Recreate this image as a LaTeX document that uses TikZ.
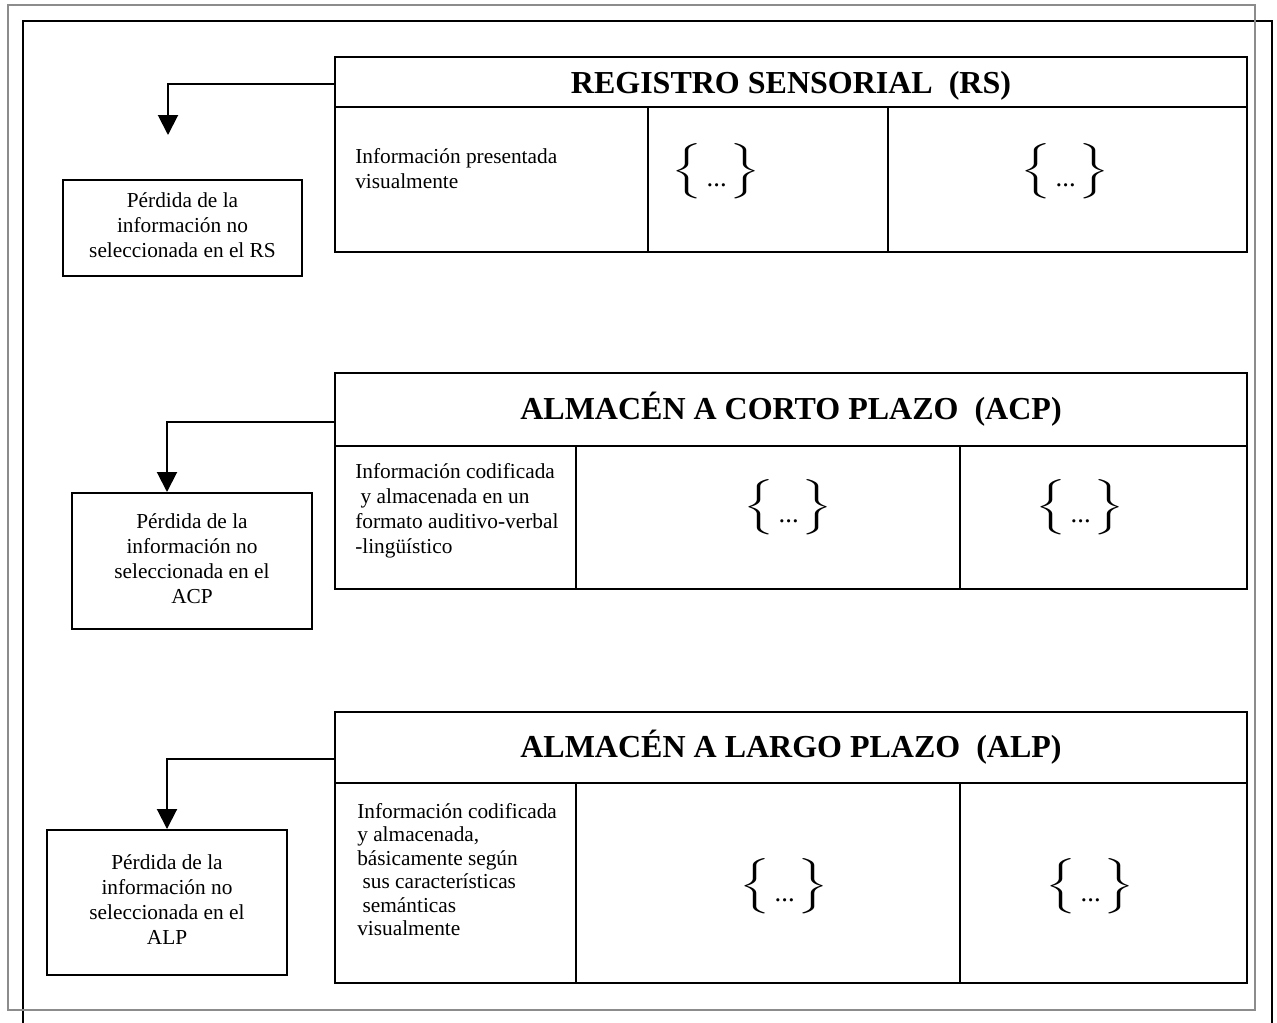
\documentclass[tikz,border=0pt]{standalone}
\usepackage{fontspec}
\usepackage{graphicx}
\usepackage{exscale}
\setmainfont{Liberation Serif}
\usetikzlibrary{arrows.meta,fit}

\definecolor{framegray}{HTML}{8C8C8C}

\newcommand{\bodyfont}{\fontsize{16}{18.75}\selectfont}
\newcommand{\denseFont}{\fontsize{16}{17.6}\selectfont}
\newcommand{\headfont}{\fontsize{24}{28}\selectfont\bfseries}
% a pair of tall braces with dots set low inside
\newcommand{\setbrace}{%
  \scalebox{1.8}[1]{$\left\{\vphantom{\rule[-15pt]{0pt}{38pt}}\right.$}%
  \hspace{1pt}\raisebox{-7pt}{\fontsize{20}{20}\selectfont ...}\hspace{0pt}%
  \scalebox{1.8}[1]{$\left.\vphantom{\rule[-15pt]{0pt}{38pt}}\right\}$}}

\begin{document}
\begin{tikzpicture}[x=0.75pt,y=-0.75pt,
  panel/.style={draw=black,line width=1.5pt,inner sep=0pt},
  headtext/.style={font=\headfont,inner sep=0pt},
  celltext/.style={font=\bodyfont,align=left,anchor=north west,inner sep=0pt},
  losstext/.style={font=\bodyfont,align=center,inner sep=0pt,yshift=2pt},
  bracepair/.style={font=\bodyfont,inner sep=0pt},
  flow/.style={draw=black,line width=1.5pt,-{Triangle[length=15pt,width=15pt]}},
]
\useasboundingbox (0,0) rectangle (1277,1022);

% page frames
\draw[line width=1.6pt] (23,1030) -- (23,21) -- (1272,21) -- (1272,1030);
\draw[line width=1.5pt,draw=framegray] (8,5) rectangle (1255,1010);

% ---- sensory register ----
\node[panel,fit={(335,57) (1247,107)}] (rsH) {};
\node[headtext,yshift=-3pt] (rsTitle) at (rsH.center) {REGISTRO SENSORIAL~~(RS)};
\node[panel,fit={(335,107) (648,252)}] (rsC1) {};
\node[panel,fit={(648,107) (888,252)}] (rsC2) {};
\node[panel,fit={(888,107) (1247,252)}] (rsC3) {};
\node[celltext] (rsInfo) at (355,148) {Información presentada\\visualmente};
\node[bracepair] (rsB1) at (716,171) {\setbrace};
\node[bracepair] (rsB2) at (1065,171) {\setbrace};
\node[panel,fit={(63,180) (302,276)}] (rsLoss) {};
\node[losstext] (rsLossText) at (rsLoss.center)
  {Pérdida de la\\información no\\seleccionada en el RS};
\coordinate (rsOut) at (335,84);
\coordinate (rsEnd) at (168,135);
\draw[flow] (rsOut) -| (rsEnd);

% ---- short-term store ----
\node[panel,fit={(335,373) (1247,446)}] (acpH) {};
\node[headtext] (acpTitle) at (acpH.center) {ALMACÉN A CORTO PLAZO~~(ACP)};
\node[panel,fit={(335,446) (576,589)}] (acpC1) {};
\node[panel,fit={(576,446) (960,589)}] (acpC2) {};
\node[panel,fit={(960,446) (1247,589)}] (acpC3) {};
\node[celltext] (acpInfo) at (355,463)
  {Información codificada\\\hspace*{0.25em}y almacenada en un\\formato auditivo-verbal\\-lingüístico};
\node[bracepair] (acpB1) at (788,507) {\setbrace};
\node[bracepair] (acpB2) at (1080,507) {\setbrace};
\node[panel,fit={(72,493) (312,629)}] (acpLoss) {};
\node[losstext] (acpLossText) at (acpLoss.center)
  {Pérdida de la\\información no\\seleccionada en el\\ACP};
\coordinate (acpOut) at (335,422);
\draw[flow] (acpOut) -| ([xshift=72pt]acpLoss.north west);

% ---- long-term store ----
\node[panel,fit={(335,712) (1247,783)}] (alpH) {};
\node[headtext] (alpTitle) at (alpH.center) {ALMACÉN A LARGO PLAZO~~(ALP)};
\node[panel,fit={(335,783) (576,983)}] (alpC1) {};
\node[panel,fit={(576,783) (960,983)}] (alpC2) {};
\node[panel,fit={(960,783) (1247,983)}] (alpC3) {};
\node[celltext,font=\denseFont] (alpInfo) at (357,803)
  {Información codificada\\y almacenada,\\básicamente según\\\hspace*{0.25em}sus características\\\hspace*{0.25em}semánticas\\visualmente};
\node[bracepair] (alpB1) at (784,886) {\setbrace};
\node[bracepair] (alpB2) at (1090,886) {\setbrace};
\node[panel,fit={(47,830) (287,975)}] (alpLoss) {};
\node[losstext] (alpLossText) at (alpLoss.center)
  {Pérdida de la\\información no\\seleccionada en el\\ALP};
\coordinate (alpOut) at (335,759);
\draw[flow] (alpOut) -| (alpLoss.north);
\end{tikzpicture}
\end{document}
